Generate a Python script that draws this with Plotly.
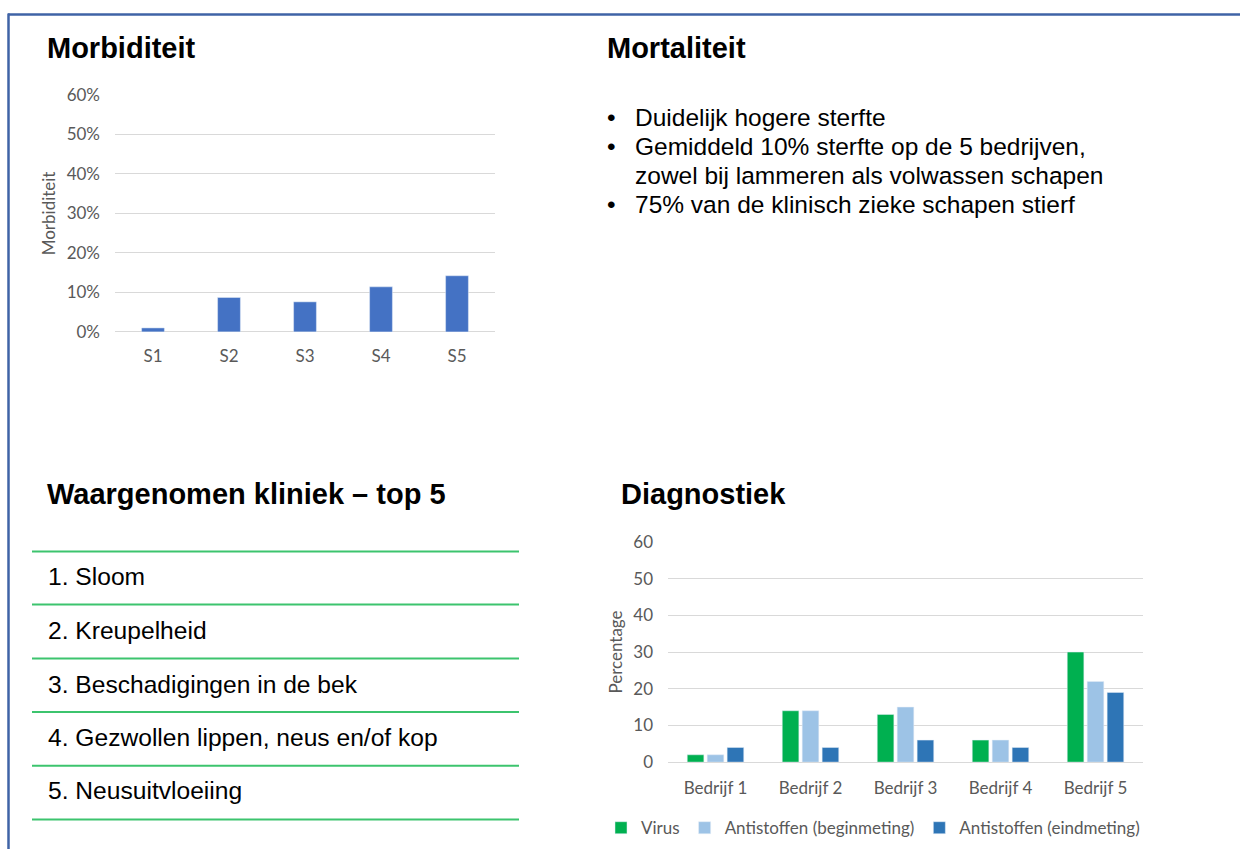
import plotly.graph_objects as go

W, H = 1240, 859
# the photographed page shows figure row Y at picture row 0.975*Y + 10.3;
# positions below are given in picture pixels and mapped back to figure rows
SY, OY = 0.975, 10.3

def px(x):
    return x / W

def py(y):
    return 1 - ((y - OY) / SY) / H

# ---- data ----
morb_categories = ["S1", "S2", "S3", "S4", "S5"]
morb_values = [0.01, 0.087, 0.076, 0.114, 0.142]

diag_categories = ["Bedrijf 1", "Bedrijf 2", "Bedrijf 3", "Bedrijf 4", "Bedrijf 5"]
diag_virus = [2, 14, 13, 6, 30]
diag_begin = [2, 14, 15, 6, 22]
diag_eind = [4, 4, 6, 4, 19]
diag_series_names = ["Virus", "Antistoffen (beginmeting)", "Antistoffen (eindmeting)"]

mortality_bullets = [
    ["Duidelijk hogere sterfte"],
    ["Gemiddeld 10% sterfte op de 5 bedrijven,", "zowel bij lammeren als volwassen schapen"],
    ["75% van de klinisch zieke schapen stierf"],
]
clinic_top5 = [
    "1. Sloom",
    "2. Kreupelheid",
    "3. Beschadigingen in de bek",
    "4. Gezwollen lippen, neus en/of kop",
    "5. Neusuitvloeiing",
]

TITLE_FONT = dict(family="Liberation Sans, Arial, sans-serif", size=29, color="#000000")
BULLET_FONT = dict(family="Liberation Sans, Arial, sans-serif", size=24.5, color="#000000")
LIST_FONT = dict(family="Liberation Sans, Arial, sans-serif", size=24.6, color="#000000")
CHART_FONT = dict(family="Lato, Calibri, sans-serif", size=17, color="#595959")
GRID = "#d9d9d9"

fig = go.Figure()

# Morbiditeit bars
fig.add_trace(go.Bar(
    x=morb_categories, y=morb_values, width=0.3,
    marker=dict(color="#4472c4"), showlegend=False,
    xaxis="x", yaxis="y", name="Morbiditeit",
))

# Diagnostiek bars
diag_colors = ["#00b050", "#9dc3e6", "#2e75b6"]
for vals, name, col, off in zip([diag_virus, diag_begin, diag_eind], diag_series_names,
                                diag_colors, [-0.21, 0.0, 0.21]):
    fig.add_trace(go.Bar(
        x=diag_categories, y=vals, name=name, width=0.175, offset=off - 0.0875,
        marker=dict(color=col), xaxis="x2", yaxis="y2",
    ))

axis_common = dict(showline=False, ticks="", tickfont=CHART_FONT, fixedrange=True)

fig.update_layout(
    width=W, height=H,
    margin=dict(l=0, r=0, t=0, b=0),
    paper_bgcolor="white", plot_bgcolor="white",
    barmode="overlay",
    showlegend=True,
    legend=dict(
        orientation="h", x=px(601), xanchor="left", y=py(827), yanchor="middle",
        font=CHART_FONT, bgcolor="rgba(0,0,0,0)", itemwidth=30,
        traceorder="normal",
    ),
    xaxis=dict(domain=[px(115), px(495)], anchor="y", showgrid=False,
               ticklabelstandoff=12, **axis_common),
    yaxis=dict(domain=[py(331), py(94)], anchor="x", range=[0, 0.6], dtick=0.1,
               tickformat=".0%", showgrid=True, gridcolor=GRID, gridwidth=1,
               zeroline=True, zerolinecolor=GRID, zerolinewidth=1,
               ticklabelstandoff=14, **axis_common),
    xaxis2=dict(domain=[px(668), px(1143)], anchor="y2", showgrid=False,
                ticklabelstandoff=14, **axis_common),
    yaxis2=dict(domain=[py(761), py(541)], anchor="x2", range=[0, 60], dtick=10,
                showgrid=True, gridcolor=GRID, gridwidth=1,
                zeroline=True, zerolinecolor=GRID, zerolinewidth=1,
                ticklabelstandoff=14, **axis_common),
)

annotations = []
shapes = []

def text(x, y, s, font, xanchor="left", angle=0):
    annotations.append(dict(
        x=px(x), y=py(y), xref="paper", yref="paper", text=s, showarrow=False,
        xanchor=xanchor, yanchor="middle", font=font, textangle=angle,
    ))

# Titles
text(45, 47.2, "<b>Morbiditeit</b>", TITLE_FONT)
text(605, 47.2, "<b>Mortaliteit</b>", TITLE_FONT)
text(45, 493.5, "<b>Waargenomen kliniek – top 5</b>", TITLE_FONT)
text(619, 493.5, "<b>Diagnostiek</b>", TITLE_FONT)

# Axis titles
text(48, 212.5, "Morbiditeit", CHART_FONT, xanchor="center", angle=-90)
text(616, 651.5, "Percentage", CHART_FONT, xanchor="center", angle=-90)

# Mortaliteit bullets
line_y = 116.7
for bullet in mortality_bullets:
    for i, line in enumerate(bullet):
        if i == 0:
            text(605, line_y, "•", BULLET_FONT)
        text(633, line_y, line, BULLET_FONT)
        line_y += 29.0

# Kliniek list
list_lines = [550.5, 603.5, 657.5, 711, 764.7, 818.3]
list_text_y = [575, 629, 683, 736, 789.5]
for item, yc in zip(clinic_top5, list_text_y):
    text(46, yc, item, LIST_FONT)
for yl in list_lines:
    shapes.append(dict(type="line", xref="paper", yref="paper",
                       x0=px(32), x1=px(519), y0=py(yl), y1=py(yl),
                       line=dict(color="#3cc46e", width=2)))

# Slide border (top and left)
shapes.append(dict(type="line", xref="paper", yref="paper",
                   x0=px(8), x1=px(1240), y0=py(13.8), y1=py(13.8),
                   line=dict(color="#3f63a6", width=2.5)))
shapes.append(dict(type="line", xref="paper", yref="paper",
                   x0=px(8.5), x1=px(8.5), y0=0, y1=py(12.7),
                   line=dict(color="#3f63a6", width=2.5)))

fig.update_layout(annotations=annotations, shapes=shapes)

fig.write_html(
    "out.html",
    config={"displayModeBar": False},
    post_script=(
        "document.documentElement.style.margin='0';"
        "document.documentElement.style.padding='0';"
        "document.documentElement.style.overflow='hidden';"
        "document.body.style.margin='0';"
        "document.body.style.padding='0';"
        "document.body.style.overflow='hidden';"
        "var gd=document.getElementsByClassName('plotly-graph-div')[0];"
        "gd.style.position='fixed';gd.style.top='0px';gd.style.left='0px';"
    ),
)
